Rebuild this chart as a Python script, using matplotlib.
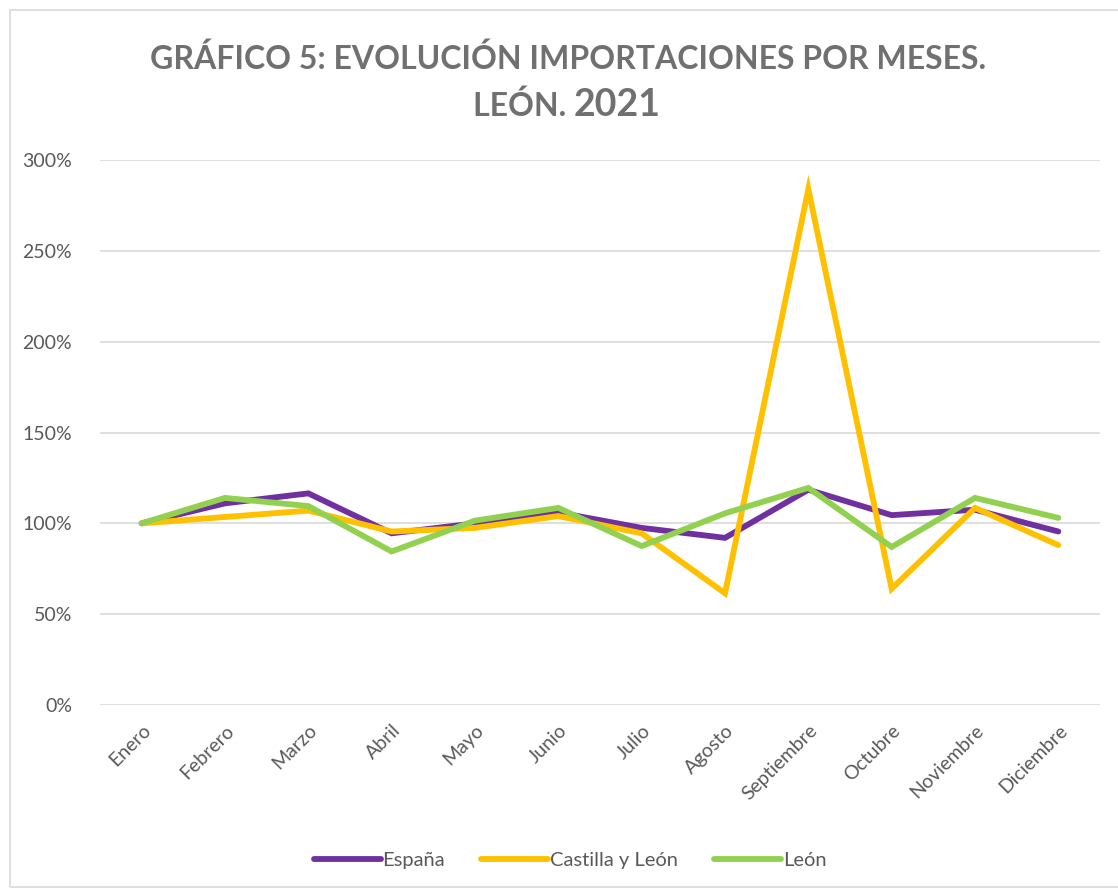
import numpy as np
import matplotlib.pyplot as plt
from matplotlib.patches import Rectangle
from matplotlib.ticker import PercentFormatter

meses = ['Enero', 'Febrero', 'Marzo', 'Abril', 'Mayo', 'Junio', 'Julio',
         'Agosto', 'Septiembre', 'Octubre', 'Noviembre', 'Diciembre']
espana = [100, 111, 116.5, 94.5, 100, 106, 97.5, 92, 118.5, 104.5, 107.5, 95.5]
castilla = [100, 103.5, 107, 95.5, 97.5, 104, 94.5, 61.5, 284, 64, 108.5, 88]
leon = [100, 114, 109.5, 84.5, 101.5, 108.5, 87.5, 105.5, 119.5, 87, 114, 103]

series = [('España', espana, '#7030A0'),
          ('Castilla y León', castilla, '#FFC000'),
          ('León', leon, '#92D050')]

plt.rcParams['font.family'] = ['Lato', 'DejaVu Sans']
gris = '#595959'

fig = plt.figure(figsize=(11.18, 8.93), dpi=100)
ax = fig.add_axes([100/1118, 1 - 705/893, 1000/1118, 545/893])

x = np.arange(len(meses))
for nombre, vals, color in series:
    ax.plot(x, np.array(vals) / 100, color=color, lw=4.2, label=nombre,
            solid_capstyle='round', solid_joinstyle='miter')

ax.set_xlim(-0.5, len(meses) - 0.5)
ax.set_ylim(0, 3)
ax.set_yticks(np.arange(0, 3.01, 0.5))
ax.yaxis.set_major_formatter(PercentFormatter(1.0, decimals=0))
ax.set_xticks(x)
ax.set_xticklabels(meses, rotation=45, ha='right', rotation_mode='anchor')
ax.tick_params(axis='both', length=0, labelsize=14, labelcolor=gris)
ax.tick_params(axis='x', pad=12)
ax.tick_params(axis='y', pad=20)
ax.grid(axis='y', color='#D9D9D9', lw=1.2)
ax.set_axisbelow(True)
for s in ax.spines.values():
    s.set_visible(False)

titulo = '#707070'
fig.text(0.508, 1 - 59/893, 'GRÁFICO 5: EVOLUCIÓN IMPORTACIONES POR MESES.',
         ha='center', va='center', fontsize=23, fontweight='bold', color=titulo)
fig.text(0.513, 1 - 116/893, 'LEÓN. ', ha='right', va='baseline',
         fontsize=23, fontweight='bold', color=titulo)
fig.text(0.513, 1 - 116/893, '2021', ha='left', va='baseline',
         fontsize=27, fontweight='bold', color=titulo)

leg = fig.legend(loc='center', bbox_to_anchor=(0.51, 1 - 860/893), ncol=3,
                 frameon=False, fontsize=14.5, handlelength=3.3, handletextpad=0.1,
                 columnspacing=1.8)
for t in leg.get_texts():
    t.set_color(gris)

fig.patches.append(Rectangle((10/1118, 6/893), 1110/1118, 877/893,
                             transform=fig.transFigure, fill=False,
                             edgecolor='#D9D9D9', lw=1.2))

fig.savefig('out.png', dpi=100, facecolor='white')
